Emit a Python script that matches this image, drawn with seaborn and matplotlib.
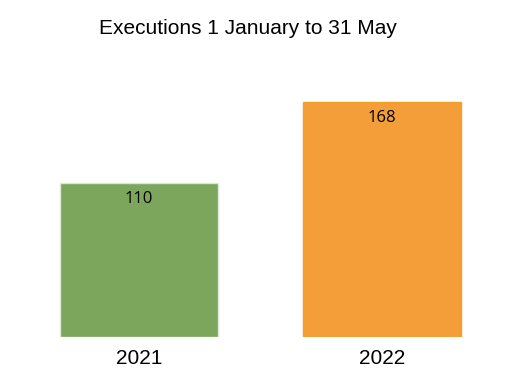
import matplotlib
matplotlib.use("Agg")
import matplotlib.pyplot as plt
import seaborn as sns
import pandas as pd

years = ["2021", "2022"]
executions = [110, 168]
colors = ["#7BA65C", "#F39E38"]
edge_colors = ["#DDE8D5", "#F5A020"]
title = "Executions 1 January to 31 May"

sns.set_theme(style="white")
plt.rcParams["font.family"] = ["Liberation Sans", "DejaVu Sans"]

W, H = 512, 383
fig = plt.figure(figsize=(W / 100, H / 100), dpi=100)
base = 337
scale = 1.4
ax = fig.add_axes([0, (H - base) / H, 1, base / H])

df = pd.DataFrame({"year": years, "n": executions})
sns.barplot(data=df, x="year", y="n", hue="year", palette=colors, width=0.65,
            saturation=1, legend=False, ax=ax, linewidth=1)
for p, ec in zip(ax.patches, edge_colors):
    p.set_edgecolor(ec)

ax.set_xlim(-139 / 243, (W - 139) / 243)
ax.set_ylim(0, base / scale)
for s in ax.spines.values():
    s.set_visible(False)
ax.set_yticks([])
ax.set_xlabel("")
ax.set_ylabel("")
ax.tick_params(axis="x", length=0, pad=9, labelsize=15, colors="black")

for p, v in zip(ax.patches, executions):
    ax.annotate(str(v), (p.get_x() + p.get_width() / 2, p.get_height()),
                xytext=(0, -11.5), textcoords="offset points",
                ha="center", va="center", fontsize=12, family="Open Sans",
                color="black")

fig.text(248 / W, 1 - 28 / H, title, ha="center", va="center", fontsize=15,
         color="black")

fig.savefig("out.png", dpi=100)
